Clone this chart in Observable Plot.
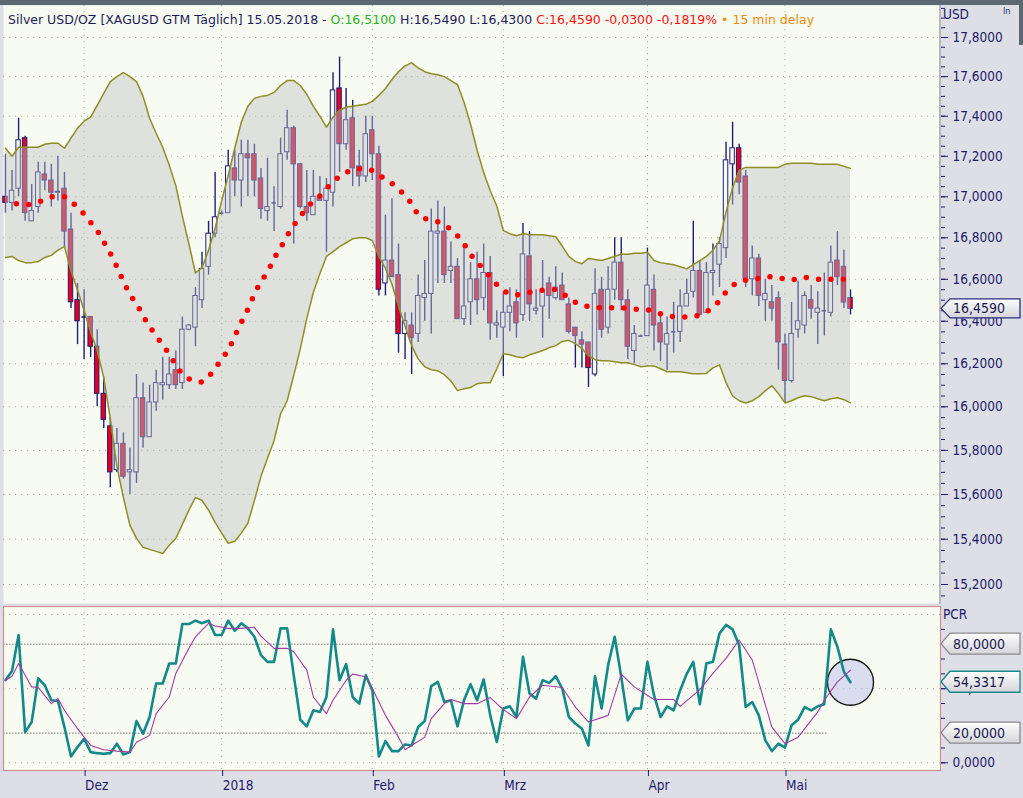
<!DOCTYPE html>
<html><head><meta charset="utf-8">
<script src="https://cdn.jsdelivr.net/npm/d3@7"></script>
<script src="https://cdn.jsdelivr.net/npm/@observablehq/plot@0.6"></script>
<style>
html,body{margin:0;padding:0;background:#dedee6;}
#wrap{position:relative;width:1023px;height:798px;overflow:hidden;background:#dedee6;font-family:"DejaVu Sans Condensed","DejaVu Sans",sans-serif;}
#wrap svg{position:absolute;left:0;}
#topbar{position:absolute;left:0;top:0;width:1023px;height:5px;background:#5d6872;}
#thumb{position:absolute;left:1019px;top:0;width:4px;height:45px;background:#5d6872;}
#header{position:absolute;left:8px;top:12px;font-family:"DejaVu Sans",sans-serif;font-size:12.5px;white-space:pre;color:#1c1c5a;line-height:16px;}
.side{position:absolute;left:943px;font-size:13.5px;color:#1c1c6a;}
#ln{position:absolute;left:1003px;top:6px;font-size:9px;color:#1c1c6a;}
#wm{position:absolute;left:12px;top:721px;width:125px;height:42px;opacity:0.5;pointer-events:none;}
#wm .box{position:absolute;left:0;top:4px;width:50px;height:36px;border-radius:9px;background:#7d7d7d;color:#fff;font:bold 27px "DejaVu Sans",sans-serif;line-height:34px;text-align:center;}
#wm .ts{position:absolute;left:54px;top:0px;font:9px "DejaVu Sans",sans-serif;color:#777;}
#wm .vi{position:absolute;left:52px;top:12px;font:bold 24px "DejaVu Sans",sans-serif;color:#777;}
</style></head>
<body><div id="wrap">
<div id="wm"><div class="box">on</div><div class="ts">Tradesignal</div><div class="vi">vista</div></div>
</div>
<script>
// ---------- data ----------
const open = [
17.00,16.97,17.04,17.29,16.88,16.95,17.11,17.08,17.02,17.04,
16.84,16.50,16.42,16.42,16.28,16.06,15.91,15.71,15.83,15.70,
15.70,16.04,15.86,16.02,16.10,16.10,16.17,16.11,16.36,16.37,
16.50,16.66,16.82,16.92,16.92,17.14,17.08,17.21,17.21,17.09,
16.93,16.97,16.95,17.22,17.34,17.16,16.95,16.91,17.00,16.98,
17.02,17.54,17.26,17.39,17.15,17.10,17.33,17.21,16.58,16.69,
16.62,16.34,16.38,16.34,16.51,16.53,16.82,16.83,16.64,16.66,
16.41,16.49,16.60,16.51,16.63,16.38,16.37,16.44,16.49,16.43,
16.71,16.45,16.47,16.58,16.51,16.57,16.48,16.37,16.31,16.30,
16.15,16.55,16.37,16.55,16.68,16.50,16.26,16.33,16.33,16.55,
16.39,16.29,16.35,16.35,16.47,16.54,16.64,16.44,16.63,16.67,
16.75,17.16,17.24,17.10,16.60,16.70,16.50,16.49,16.51,16.29,
16.12,16.36,16.38,16.50,16.44,16.45,16.44,16.69,16.66,16.51];
const high = [
17.21,17.13,17.39,17.30,17.06,17.17,17.17,17.16,17.20,17.12,
16.92,16.58,16.55,16.42,16.36,16.14,15.95,15.90,15.88,15.81,
16.15,16.11,16.10,16.17,16.23,16.23,16.26,16.42,16.385,16.56,
16.73,16.88,17.12,16.93,17.23,17.23,17.28,17.28,17.26,17.14,
17.19,17.05,17.29,17.43,17.35,17.165,17.13,17.13,17.10,17.09,
17.62,17.70,17.54,17.48,17.23,17.40,17.40,17.25,16.91,16.99,
16.77,16.44,16.44,16.62,16.69,16.94,16.98,16.95,16.78,16.70,
16.77,16.68,16.73,16.77,16.71,16.45,16.54,16.56,16.55,16.87,
16.83,16.55,16.69,16.61,16.66,16.63,16.51,16.37,16.35,16.30,
16.65,16.61,16.66,16.80,16.80,16.55,16.38,16.335,16.75,16.62,
16.44,16.42,16.49,16.55,16.60,16.88,16.69,16.68,16.77,16.80,
17.27,17.37,17.26,17.13,16.76,16.72,16.60,16.57,16.54,16.34,
16.49,16.59,16.54,16.57,16.54,16.63,16.76,16.83,16.74,16.549];
const low = [
16.92,16.93,17.00,16.88,16.88,16.92,17.03,16.95,16.98,16.75,
16.46,16.29,16.22,16.23,16.00,15.90,15.63,15.70,15.67,15.60,
15.65,15.81,15.86,15.98,16.03,16.08,16.08,16.08,16.355,16.28,
16.46,16.62,16.80,16.91,16.92,17.00,16.95,17.00,17.00,16.89,
16.88,16.83,16.94,17.18,16.77,16.94,16.88,16.91,16.98,16.73,
16.95,17.12,17.23,17.05,17.05,17.07,17.08,16.52,16.52,16.61,
16.25,16.22,16.15,16.30,16.40,16.34,16.58,16.58,16.58,16.41,
16.38,16.38,16.43,16.45,16.31,16.32,16.14,16.35,16.32,16.40,
16.40,16.43,16.32,16.41,16.50,16.50,16.34,16.18,16.18,16.09,
16.14,16.32,16.34,16.50,16.45,16.22,16.20,16.325,16.33,16.26,
16.21,16.17,16.25,16.30,16.47,16.51,16.43,16.44,16.52,16.56,
16.70,16.96,17.01,16.56,16.52,16.47,16.40,16.40,16.17,16.02,
16.11,16.32,16.34,16.41,16.29,16.33,16.42,16.57,16.46,16.43];
const close = [
16.97,17.03,17.28,16.92,16.93,17.12,17.08,17.02,17.025,16.83,
16.49,16.40,16.42,16.28,16.06,15.94,15.70,15.83,15.68,15.71,
16.04,15.86,16.02,16.11,16.11,16.15,16.10,16.36,16.38,16.52,
16.65,16.82,16.90,16.92,17.15,17.08,17.21,17.19,17.08,16.94,
16.95,16.97,17.21,17.34,17.16,16.95,16.92,17.00,16.98,17.04,
17.53,17.26,17.38,17.14,17.10,17.31,17.21,16.55,16.69,16.61,
16.34,16.40,16.32,16.52,16.53,16.83,16.83,16.62,16.66,16.41,
16.47,16.60,16.50,16.63,16.39,16.39,16.44,16.47,16.39,16.72,
16.48,16.46,16.54,16.52,16.56,16.50,16.35,16.33,16.29,16.18,
16.53,16.36,16.55,16.68,16.50,16.28,16.34,16.33,16.57,16.38,
16.30,16.34,16.35,16.47,16.53,16.64,16.43,16.63,16.64,16.77,
17.18,17.24,17.07,16.60,16.70,16.52,16.53,16.46,16.30,16.12,
16.34,16.40,16.52,16.46,16.46,16.45,16.68,16.61,16.489,16.459];
const upperBand = [
17.24,17.20,17.245,17.245,17.245,17.245,17.26,17.265,17.265,17.24,
17.29,17.34,17.375,17.395,17.455,17.515,17.575,17.60,17.62,17.60,
17.575,17.50,17.39,17.315,17.245,17.155,17.055,16.905,16.77,16.63,
16.655,16.74,16.845,16.98,17.105,17.24,17.37,17.45,17.49,17.50,
17.505,17.52,17.555,17.58,17.58,17.555,17.51,17.45,17.40,17.345,
17.395,17.43,17.445,17.45,17.455,17.46,17.475,17.505,17.54,17.585,
17.625,17.655,17.67,17.645,17.625,17.615,17.61,17.60,17.58,17.56,
17.47,17.36,17.23,17.12,17.03,16.955,16.835,16.82,16.81,16.82,
16.815,16.815,16.815,16.81,16.805,16.76,16.71,16.685,16.675,16.70,
16.695,16.69,16.70,16.71,16.72,16.72,16.725,16.725,16.73,16.69,
16.68,16.675,16.67,16.66,16.65,16.67,16.69,16.71,16.74,16.785,
16.925,17.045,17.13,17.145,17.145,17.145,17.145,17.145,17.145,17.16,
17.165,17.165,17.165,17.165,17.16,17.16,17.16,17.16,17.15,17.14];
const lowerBand = [
16.705,16.71,16.69,16.68,16.68,16.685,16.705,16.715,16.74,16.757,
16.64,16.547,16.452,16.348,16.262,16.135,15.945,15.728,15.587,15.462,
15.404,15.364,15.355,15.346,15.337,15.373,15.404,15.466,15.53,15.587,
15.573,15.53,15.475,15.427,15.382,15.391,15.427,15.471,15.573,15.682,
15.764,15.845,15.968,16.028,16.145,16.27,16.414,16.538,16.628,16.71,
16.733,16.757,16.776,16.795,16.80,16.80,16.786,16.71,16.652,16.576,
16.471,16.376,16.285,16.223,16.186,16.172,16.167,16.149,16.12,16.075,
16.084,16.089,16.107,16.112,16.112,16.177,16.247,16.242,16.233,16.228,
16.242,16.252,16.262,16.276,16.285,16.305,16.31,16.295,16.271,16.238,
16.219,16.214,16.214,16.21,16.205,16.205,16.196,16.186,16.19,16.19,
16.177,16.163,16.163,16.163,16.158,16.153,16.153,16.155,16.181,16.195,
16.112,16.05,16.028,16.018,16.028,16.047,16.075,16.098,16.061,16.018,
16.028,16.042,16.051,16.047,16.037,16.028,16.037,16.042,16.033,16.018];
const middleBand = [
16.96,16.966,16.965,16.96,16.965,16.975,16.985,17.00,17.00,17.00,
16.98,16.946,16.915,16.875,16.835,16.78,16.725,16.66,16.59,16.525,
16.485,16.425,16.375,16.33,16.29,16.245,16.195,16.15,16.13,16.12,
16.115,16.14,16.175,16.225,16.26,16.33,16.395,16.457,16.53,16.59,
16.633,16.70,16.752,16.81,16.86,16.905,16.945,16.98,17.005,17.04,
17.075,17.10,17.12,17.135,17.138,17.14,17.13,17.11,17.085,17.065,
17.035,17.01,16.966,16.91,16.893,16.888,16.878,16.865,16.84,16.81,
16.77,16.72,16.68,16.65,16.61,16.575,16.545,16.53,16.525,16.53,
16.538,16.542,16.548,16.55,16.552,16.535,16.51,16.49,16.475,16.47,
16.466,16.463,16.462,16.466,16.465,16.46,16.457,16.457,16.455,16.445,
16.435,16.425,16.422,16.42,16.42,16.42,16.43,16.443,16.47,16.495,
16.54,16.57,16.59,16.595,16.60,16.605,16.614,16.612,16.61,16.60,
16.595,16.605,16.61,16.605,16.60,16.60,16.60,16.60,16.60,16.60];
const pcr = [
55.7,62,86.2,20.7,27.5,57,52.3,42.2,41.7,24.1,
4.3,10.6,16.2,7.2,6.5,6.1,6.5,12.9,5.6,7.2,
28.2,19.6,30.9,53.5,53.5,67,67,93.6,93.6,95.9,
94.1,95.9,86.2,86.2,95.9,89.1,94.1,90.7,85,72.6,
68.1,68.1,90.7,90.7,59.1,29.1,24.6,35.4,34.3,44.4,
90,55.7,66.6,44.4,39.9,59.1,49,4.3,14.6,7.9,
7.9,12.4,11.7,24.1,28.2,51.7,54.6,41,42.2,24.6,
42.2,53,42.2,56.2,32,14,36.6,38.1,30.9,71.5,
46.7,43.3,55.7,53.9,58.4,50.1,30.9,26.5,23,11.7,
58.4,36.6,65.9,85,58,28.6,36.6,36.6,68.1,45.6,
30.9,38.1,35.4,49,60,68.1,39.5,67,68.1,87.3,
93,90,79.4,37.6,41,32,15.1,7.9,12.9,10.2,
25.3,29.1,37.6,35.4,38.1,39.5,90,78.3,61.3,54.3317];
const sigBar = [0,1,2,3,4,5,7,8,9,11,13,15,17,19,20,22,23,25,26,28,29,31,32,34,36,38,39,41,43,44,46,47,49,50,52,53,55,56,58,60,61,62,64,65,67,68,70,72,74,76,78,80,82,85,87,89,92,94,96,99,102,103,106,108,110,112,114,117,119,121,124,125,127,129];
const sigVal = [55.7,58.4,67,59.1,51.2,50.8,39.9,43.3,35.4,23,11.7,8.8,7.9,7.2,13.9,18.5,33.2,44.4,60.3,77.2,85,94.1,92.3,90.7,90.7,91.4,85.5,77.2,77.2,74.9,62.5,44.4,33.2,42.2,55.7,59.8,58,50.1,32,17.3,8.8,11.7,17.3,29.8,39.9,42.7,39.9,39.9,44,35.9,29.8,44.4,52.3,50.8,37.6,27.5,32,59.8,51.2,42.7,42.7,38.1,49.4,60.3,70.4,82.8,69.3,24.1,12.9,17.3,34.3,42.2,54.6,62.5];
const priceTicks = [15.2,15.4,15.6,15.8,16.0,16.2,16.4,16.6,16.8,17.0,17.2,17.4,17.6,17.8];
const pcrTicks = [0,10,20,30,40,50,60,70,80,90];
const pcrLevels = [20, 80];
const pcrGrid = [0, 50, 100];
const monthBar = [12, 33, 56, 76, 98, 119];
const monthLabel = ["Dez", "2018", "Feb", "Mrz", "Apr", "Mai"];
const titleText = "Silver USD/OZ [XAGUSD GTM Täglich] 15.05.2018 - ";

// ---------- helpers ----------
const fmt = v => v.toFixed(4).replace(".", ",");
const navy = "#1c1c6a";
const bg = "#f8fbf1";
const gridCol = "#a6aba0";
const N = close.length;
const last = N - 1;
const rows = d3.range(N).map(i => ({i, o: open[i], h: high[i], l: low[i], c: close[i], up: close[i] >= open[i],
  ub: upperBand[i], lb: lowerBand[i], mb: middleBand[i], p: pcr[i]}));
const sigRows = sigBar.map((b, k) => ({i: b, v: sigVal[k]}));
const minorTicks = d3.range(15.15, 17.96, 0.05).map(v => +v.toFixed(2));
const labelByBar = new Map(monthBar.map((b, k) => [b, monthLabel[k]]));
const font = '"DejaVu Sans Condensed","DejaVu Sans",sans-serif';
const wrap = document.getElementById("wrap");

// ---------- main price panel ----------
const main = Plot.plot({
  width: 1023, height: 604,
  marginTop: 5, marginRight: 83, marginBottom: 1, marginLeft: 3,
  style: {background: "transparent", fontFamily: font, fontSize: "13.5px", overflow: "visible"},
  x: {domain: [0, last], range: [5, 850], axis: null, label: null},
  y: {type: "log", domain: [15.2, 17.8], range: [584, 37], axis: null, label: null},
  marks: [
    Plot.frame({fill: bg, stroke: null}),
    Plot.ruleY(priceTicks, {stroke: gridCol, strokeDasharray: "1.2,4.8"}),
    Plot.ruleX(monthBar, {stroke: gridCol, strokeDasharray: "1.2,4.8"}),
    Plot.ruleX(rows, {x: "i", y1: "l", y2: "h", stroke: "#1e1e78", strokeWidth: 1.4}),
    Plot.rect(rows, {x1: d => d.i - 0.34, x2: d => d.i + 0.34,
      y1: d => Math.min(d.o, d.c), y2: d => Math.max(d.o, d.c),
      fill: d => d.up ? bg : "#e6001e", stroke: "#1e1e78", strokeWidth: 1}),
    Plot.ruleY(rows.filter(d => Math.abs(d.o - d.c) < 0.004),
      {y: "c", x1: d => d.i - 0.34, x2: d => d.i + 0.34, stroke: "#1e1e78", strokeWidth: 1.6}),
    Plot.areaY(rows, {x: "i", y1: "lb", y2: "ub", fill: "#bfc0c3", fillOpacity: 0.45}),
    Plot.line(rows, {x: "i", y: "ub", stroke: "#8e8e26", strokeWidth: 1.5}),
    Plot.line(rows, {x: "i", y: "lb", stroke: "#8e8e26", strokeWidth: 1.5}),
    Plot.line(rows, {x: "i", y: "mb", stroke: "#ff0000", strokeWidth: 5.5,
      strokeDasharray: "0,12.4", strokeDashoffset: 1.4, strokeLinecap: "round"}),
    Plot.axisY(minorTicks, {anchor: "right", tickSize: 4, tickFormat: () => "", stroke: navy, label: null}),
    Plot.axisY(priceTicks, {anchor: "right", tickSize: 7, tickPadding: 5, tickFormat: fmt, stroke: navy, fill: navy, label: null})
  ]
});
main.style.top = "0px";
wrap.appendChild(main);

// ---------- lower PCR panel ----------
const lower = Plot.plot({
  width: 1023, height: 194,
  marginTop: 2, marginRight: 83, marginBottom: 28, marginLeft: 3,
  style: {background: "transparent", fontFamily: font, fontSize: "13.5px", overflow: "visible"},
  x: {domain: [0, last], range: [5, 850], axis: null, label: null},
  y: {domain: [0, 80], range: [158.3, 39.7], axis: null, label: null},
  marks: [
    Plot.frame({fill: bg, stroke: null}),
    Plot.ruleY(pcrGrid, {stroke: gridCol, strokeDasharray: "1.2,4.8"}),
    Plot.ruleX(monthBar, {stroke: gridCol, strokeDasharray: "1.2,4.8"}),
    Plot.ruleY(pcrLevels, {x1: -0.3, x2: 125.6, stroke: "#777", strokeDasharray: "1.5,1.5"}),
    Plot.dot([rows[last]], {x: "i", y: "p", r: 23, fill: "#c6caf0", fillOpacity: 0.6, stroke: "#111", strokeWidth: 1.3}),
    Plot.line(rows, {x: "i", y: "p", stroke: "#14898a", strokeWidth: 2.6}),
    Plot.line(sigRows, {x: "i", y: "v", stroke: "#a23ca2", strokeWidth: 1.1}),
    Plot.frame({stroke: "#cf8f8f", strokeWidth: 1.2}),
    Plot.axisX(monthBar, {anchor: "bottom", tickSize: 6, tickPadding: 4, textAnchor: "start", dx: 1, label: null,
      tickFormat: d => labelByBar.get(d), stroke: navy, fill: navy, fontSize: 13.5}),
    Plot.axisY(pcrTicks, {anchor: "right", tickSize: 4, tickFormat: () => "", stroke: navy, label: null}),
    Plot.axisY([0, 50], {anchor: "right", tickSize: 7, tickPadding: 5, tickFormat: fmt, stroke: navy, fill: navy, label: null})
  ]
});
lower.style.top = "604px";
wrap.appendChild(lower);

// ---------- overlay: separator line and value label boxes ----------
const ov = d3.create("svg").attr("width", 1023).attr("height", 798)
  .style("position", "absolute").style("left", "0px").style("top", "0px").style("pointer-events", "none");
const grad = ov.append("defs").append("linearGradient").attr("id", "boxGrad")
  .attr("x1", 0).attr("y1", 0).attr("x2", 0).attr("y2", 1);
grad.append("stop").attr("offset", 0).attr("stop-color", "#ffffff");
grad.append("stop").attr("offset", 1).attr("stop-color", "#d4d4da");
ov.append("line").attr("x1", 940).attr("x2", 940).attr("y1", 5).attr("y2", 604)
  .attr("stroke", "#a4a4ac").attr("stroke-width", 1.5);
function box(y, text, strokeCol, h) {
  const x0 = 941, x1 = 1020;
  ov.append("path")
    .attr("d", `M${x0},${y} L${x0 + 9},${y - h / 2} L${x1},${y - h / 2} L${x1},${y + h / 2} L${x0 + 9},${y + h / 2} Z`)
    .attr("fill", "url(#boxGrad)").attr("stroke", strokeCol).attr("stroke-width", 1.3);
  ov.append("text").attr("x", x0 + 12).attr("y", y).attr("dy", "0.36em")
    .attr("fill", "#1a1a50").attr("font-size", 14).attr("font-family", font).text(text);
}
const py = main.scale("y");
const ly = lower.scale("y");
box(py.apply(close[last]), fmt(close[last]), "#2a2a80", 19);
box(604 + ly.apply(80), fmt(80), "#8a8a8a", 21);
box(604 + ly.apply(20), fmt(20), "#8a8a8a", 21);
box(604 + ly.apply(pcr[last]), fmt(pcr[last]), "#14898a", 21);
wrap.appendChild(ov.node());

// ---------- html overlays ----------
const chg = close[last] - close[last - 1];
const pct = chg / close[last - 1] * 100;
const header = document.createElement("div");
header.id = "header";
header.innerHTML = titleText +
  `<span style="color:#1fb31f">O:${fmt(open[last])}</span>` +
  ` H:${fmt(high[last])} L:${fmt(low[last])} ` +
  `<span style="color:#ff1010">C:${fmt(close[last])} ${fmt(chg)} ${fmt(pct)}%</span>` +
  `<span style="color:#f08c10"> • 15 min delay</span>`;
wrap.appendChild(header);
const tb = document.createElement("div"); tb.id = "topbar"; wrap.appendChild(tb);
const th = document.createElement("div"); th.id = "thumb"; wrap.appendChild(th);
const usd = document.createElement("div"); usd.className = "side"; usd.style.top = "6px"; usd.textContent = "USD"; wrap.appendChild(usd);
const pcrL = document.createElement("div"); pcrL.className = "side"; pcrL.style.top = "606px"; pcrL.textContent = "PCR"; wrap.appendChild(pcrL);
const ln = document.createElement("div"); ln.id = "ln"; ln.textContent = "ln"; wrap.appendChild(ln);
</script>
</body></html>
